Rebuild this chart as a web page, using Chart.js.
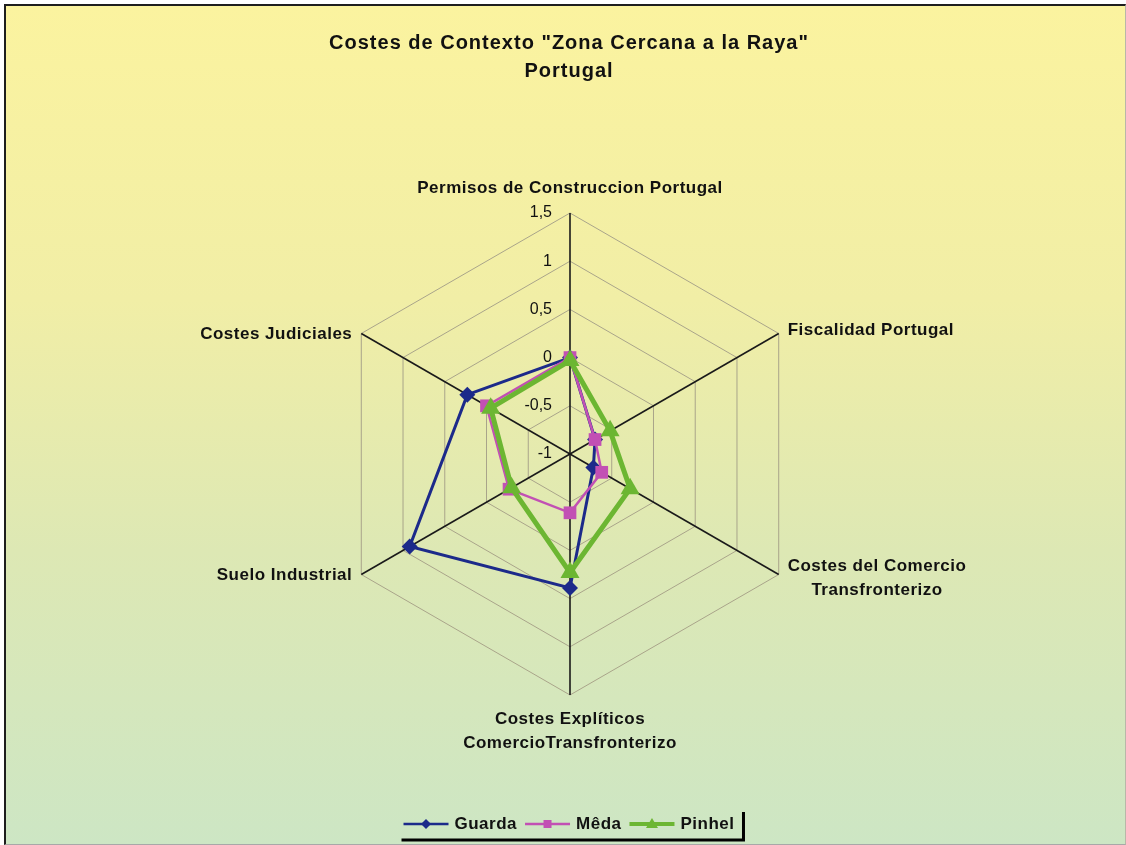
<!DOCTYPE html>
<html>
<head>
<meta charset="utf-8">
<script src="https://cdn.jsdelivr.net/npm/chart.js@4.4.0/dist/chart.umd.min.js"></script>
<style>
  html, body { margin: 0; padding: 0; background: #ffffff; }
  #frame {
    position: absolute; left: 4px; top: 4px; width: 1119px; height: 838px;
    border-left: 2px solid #1e1e1e; border-top: 2px solid #1e1e1e;
    border-right: 1px solid #b8b8a8; border-bottom: 1px solid #a8a8a8;
    background: linear-gradient(to bottom, #fbf39f 0%, #f1eea6 35%, #dde8b4 65%, #cde6c4 100%);
  }
  #chart { display: block; }
</style>
</head>
<body>
<div id="frame"><canvas id="chart" width="1119" height="838"></canvas></div>
<script>
// Costes de Contexto - radar, Portugal
const titleLines = ['Costes de Contexto "Zona Cercana a la Raya"', 'Portugal'];
const categories = [
  'Permisos de Construccion Portugal',
  'Fiscalidad Portugal',
  ['Costes del Comercio', 'Transfronterizo'],
  ['Costes Explíticos', 'ComercioTransfronterizo'],
  'Suelo Industrial',
  'Costes Judiciales'
];
const seriesNames = ['Guarda', 'Mêda', 'Pinhel'];
const guarda = [0, -0.7, -0.72, 0.39, 0.92, 0.23];
const meda = [0, -0.7, -0.62, -0.39, -0.27, 0.0];
const pinhel = [-0.03, -0.52, -0.28, 0.23, -0.3, -0.05];
const tickValues = [-1, -0.5, 0, 0.5, 1, 1.5];

const colors = {
  guarda: '#1c2a8a',
  meda: '#c250b4',
  pinhel: '#6cb632',
  grid: '#a9a48a',
  axis: '#1a1a1a',
  text: '#111111'
};
const fontFamily = "'Liberation Sans', Arial, sans-serif";

// draws a line with a marker in the middle (legend key)
function drawKey(ctx, x, y, color, style, lw) {
  ctx.strokeStyle = color; ctx.fillStyle = color; ctx.lineWidth = lw;
  ctx.beginPath(); ctx.moveTo(x, y); ctx.lineTo(x + 45, y); ctx.stroke();
  const cx = x + 22.5;
  ctx.beginPath();
  if (style === 'rectRot') { ctx.moveTo(cx, y - 5); ctx.lineTo(cx + 5, y); ctx.lineTo(cx, y + 5); ctx.lineTo(cx - 5, y); }
  else if (style === 'rect') { ctx.rect(cx - 4, y - 4, 8, 8); }
  else { ctx.moveTo(cx, y - 6); ctx.lineTo(cx + 6, y + 4); ctx.lineTo(cx - 6, y + 4); }
  ctx.closePath(); ctx.fill();
}

// title, axis labels, tick labels and legend in the Excel style
const textPlugin = {
  id: 'excelText',
  afterDraw(chart) {
    const r = chart.scales.r;
    const ctx = chart.ctx;
    ctx.save();
    ctx.fillStyle = colors.text;
    ctx.textBaseline = 'middle';

    // title
    ctx.textAlign = 'center';
    ctx.font = 'bold 20px ' + fontFamily;
    ctx.letterSpacing = '1px';
    ctx.fillText(titleLines[0], 563, 37);
    ctx.fillText(titleLines[1], 563, 65);

    // tick labels left of the vertical axis
    ctx.font = '16px ' + fontFamily;
    ctx.letterSpacing = '0px';
    ctx.textAlign = 'right';
    tickValues.forEach(v => {
      const d = r.getDistanceFromCenterForValue(v);
      ctx.fillText(String(v).replace('.', ','), r.xCenter - 18, r.yCenter - d);
    });

    // axis (point) labels
    ctx.font = 'bold 17px ' + fontFamily;
    ctx.letterSpacing = '0.5px';
    categories.forEach((lab, i) => {
      const lines = Array.isArray(lab) ? lab : [lab];
      const p = r.getPointPosition(i, r.drawingArea);
      const widths = lines.map(t => ctx.measureText(t).width);
      const bw = Math.max(...widths);
      let cx, cy;
      if (i === 0) { cx = p.x; cy = p.y - 25; }
      else if (i === 3) { cx = p.x; cy = p.y + 24; }
      else if (i === 1 || i === 2) { cx = p.x + 9 + bw / 2; cy = p.y - 3; }
      else { cx = p.x - 9 - bw / 2; cy = p.y + 1; }
      if (i === 2) cy = p.y - 8;
      ctx.textAlign = 'center';
      lines.forEach((t, k) => ctx.fillText(t, cx, cy + k * 24));
    });

    // legend
    ctx.font = 'bold 17px ' + fontFamily;
    ctx.letterSpacing = '0.5px';
    ctx.textAlign = 'left';
    const keys = [['rectRot', colors.guarda, 2.5], ['rect', colors.meda, 2.5], ['triangle', colors.pinhel, 4]];
    const ly = 818;
    const itemW = seriesNames.map(n => 45 + 6 + ctx.measureText(n).width);
    const total = itemW.reduce((a, b) => a + b, 0) + 8 * (seriesNames.length - 1);
    let x = 563 - total / 2;
    const left = x;
    seriesNames.forEach((n, i) => {
      drawKey(ctx, x, ly, keys[i][1], keys[i][0], keys[i][2]);
      ctx.fillStyle = colors.text;
      ctx.fillText(n, x + 51, ly);
      x += itemW[i] + 8;
    });
    const right = x - 8;
    ctx.strokeStyle = '#000';
    ctx.lineWidth = 3;
    ctx.beginPath();
    ctx.moveTo(left - 2, ly + 16);
    ctx.lineTo(right + 9, ly + 16);
    ctx.lineTo(right + 9, ly - 12);
    ctx.stroke();
    ctx.restore();
  }
};

const markerRadius = [8, 9, 11];
const markerStyle = ['rectRot', 'rect', 'triangle'];
const lineColors = [colors.guarda, colors.meda, colors.pinhel];
const lineWidths = [3, 2.5, 5];
const seriesData = [guarda, meda, pinhel];

new Chart(document.getElementById('chart'), {
  type: 'radar',
  data: {
    labels: categories,
    datasets: seriesNames.map((name, i) => ({
      label: name,
      data: seriesData[i],
      order: 3 - i,
      borderColor: lineColors[i],
      backgroundColor: lineColors[i],
      borderWidth: lineWidths[i],
      fill: false,
      tension: 0,
      pointStyle: markerStyle[i],
      pointRadius: markerRadius[i],
      pointBackgroundColor: lineColors[i],
      pointBorderWidth: 0
    }))
  },
  options: {
    responsive: false,
    animation: false,
    // chart area fixes the radar centre (564,448) and radius 241
    layout: { padding: { left: 264, right: 255, top: 207, bottom: 149 } },
    plugins: {
      title: { display: false },
      legend: { display: false },
      tooltip: { enabled: false }
    },
    scales: {
      r: {
        min: -1,
        max: 1.5,
        ticks: { stepSize: 0.5, display: false },
        grid: { color: colors.grid, lineWidth: 1 },
        angleLines: { color: colors.axis, lineWidth: 1.6 },
        pointLabels: { display: false }
      }
    }
  },
  plugins: [textPlugin]
});
</script>
</body>
</html>
